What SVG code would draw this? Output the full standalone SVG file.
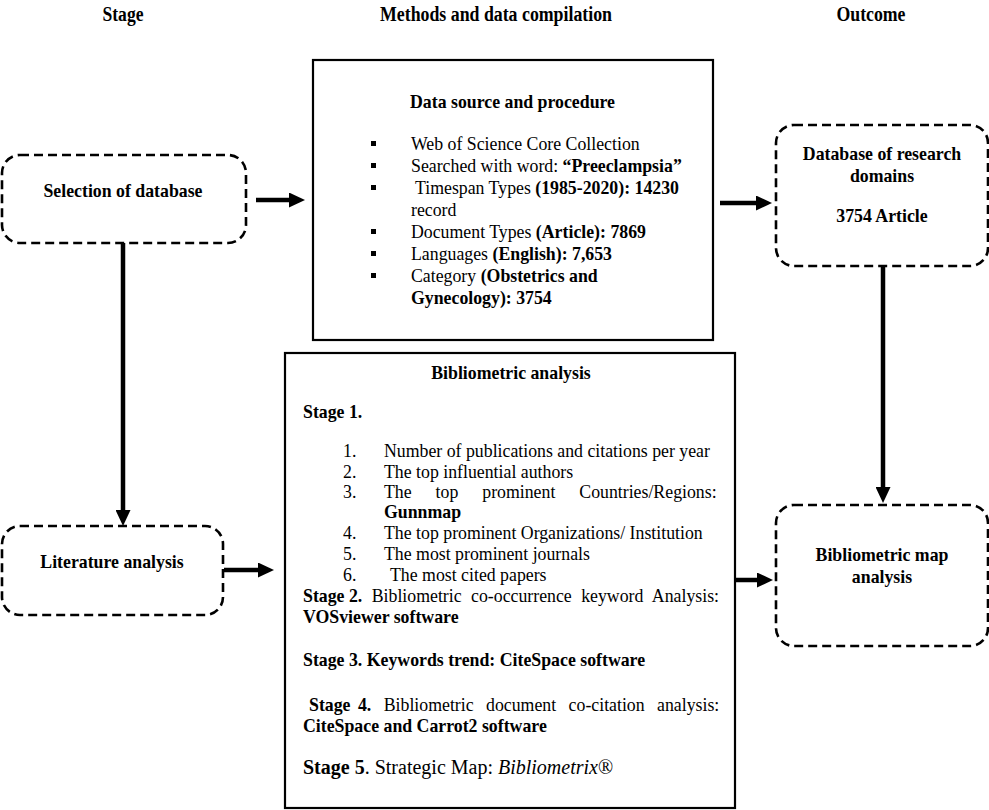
<svg xmlns="http://www.w3.org/2000/svg" width="989" height="810" viewBox="0 0 989 810">
<style>
text{font-family:"Liberation Serif","Times New Roman",serif;fill:#000}
.hd{font-size:20px;font-weight:bold}
.lb{font-size:17.8px;font-weight:bold}
.tx{font-size:17.8px}
.b{font-weight:bold}
.dash{fill:#fff;stroke:#000;stroke-width:2.6;stroke-dasharray:9 5}
.solid{fill:#fff;stroke:#000;stroke-width:2.2}
.con{stroke:#000;stroke-width:4.5;fill:none;marker-end:url(#ah)}
</style>
<defs>
<marker id="ah" markerUnits="userSpaceOnUse" markerWidth="16" markerHeight="15" refX="6" refY="7.5" orient="auto">
<path d="M0,0 L16,7.5 L0,15 z" fill="#000"/>
</marker>
</defs>
<rect width="989" height="810" fill="#fff"/>
<g id="headers">
<text class="hd" x="123" y="21" text-anchor="middle" textLength="41" lengthAdjust="spacingAndGlyphs">Stage</text>
<text class="hd" x="496" y="21" text-anchor="middle" textLength="232" lengthAdjust="spacingAndGlyphs">Methods and data compilation</text>
<text class="hd" x="871" y="21" text-anchor="middle" textLength="69" lengthAdjust="spacingAndGlyphs">Outcome</text>
</g>
<g id="connectors">
<line class="con" x1="256" y1="200" x2="295" y2="200"/>
<line class="con" x1="720" y1="203" x2="762" y2="203"/>
<line class="con" x1="123" y1="243" x2="123" y2="516"/>
<line class="con" x1="883" y1="266" x2="883" y2="493"/>
<line class="con" x1="224" y1="570" x2="264" y2="570"/>
<line class="con" x1="722" y1="580" x2="763" y2="580"/>
</g>
<g id="node-selection">
<rect class="dash" x="2" y="155" width="244" height="88" rx="18"/>
<text class="lb" x="123" y="197" text-anchor="middle">Selection of database</text>
</g>
<g id="node-literature">
<rect class="dash" x="2" y="526" width="221" height="89" rx="18"/>
<text class="lb" x="112" y="568" text-anchor="middle">Literature analysis</text>
</g>
<g id="node-datasource">
<rect class="solid" x="313" y="60" width="400" height="280"/>
<text class="lb" x="410" y="108">Data source and procedure</text>
<g fill="#000">
<rect x="371" y="141" width="5" height="5"/>
<rect x="371" y="163" width="5" height="5"/>
<rect x="371" y="185" width="5" height="5"/>
<rect x="371" y="229" width="5" height="5"/>
<rect x="371" y="251" width="5" height="5"/>
<rect x="371" y="273" width="5" height="5"/>
</g>
<text class="tx" x="411" y="150">Web of Science Core Collection</text>
<text class="tx" x="411" y="172">Searched with word: <tspan class="b">“Preeclampsia”</tspan></text>
<text class="tx" x="415" y="194">Timespan Types <tspan class="b">(1985-2020): 14230</tspan></text>
<text class="tx" x="411" y="216">record</text>
<text class="tx" x="411" y="238">Document Types <tspan class="b">(Article): 7869</tspan></text>
<text class="tx" x="411" y="260">Languages <tspan class="b">(English): 7,653</tspan></text>
<text class="tx" x="411" y="282">Category <tspan class="b">(Obstetrics and</tspan></text>
<text class="tx b" x="411" y="304">Gynecology): 3754</text>
</g>
<g id="node-database">
<rect class="dash" x="776" y="125" width="212" height="141" rx="18"/>
<text class="lb" x="882" y="160" text-anchor="middle">Database of research</text>
<text class="lb" x="882" y="182" text-anchor="middle">domains</text>
<text class="lb" x="882" y="222" text-anchor="middle">3754 Article</text>
</g>
<g id="node-bibliometric">
<rect class="solid" x="285" y="353" width="450" height="455"/>
<text class="lb" x="511" y="379" text-anchor="middle">Bibliometric analysis</text>
<text class="lb" x="303" y="418">Stage 1.</text>
<text class="tx" x="343" y="457">1.</text><text class="tx" x="384" y="457">Number of publications and citations per year</text>
<text class="tx" x="343" y="478">2.</text><text class="tx" x="384" y="478">The top influential authors</text>
<text class="tx" x="343" y="498">3.</text>
<text class="tx" x="384" y="498" word-spacing="19.5">The top prominent Countries/Regions:</text>
<text class="tx b" x="384" y="518">Gunnmap</text>
<text class="tx" x="343" y="539">4.</text><text class="tx" x="384" y="539">The top prominent Organizations/ Institution</text>
<text class="tx" x="343" y="560">5.</text><text class="tx" x="384" y="560">The most prominent journals</text>
<text class="tx" x="343" y="581">6.</text><text class="tx" x="390" y="581">The most cited papers</text>
<text class="tx" x="303" y="602"><tspan class="b">Stage 2.</tspan><tspan word-spacing="5"> Bibliometric co-occurrence keyword Analysis:</tspan></text>
<text class="tx b" x="303" y="623">VOSviewer software</text>
<text class="tx b" x="303" y="666">Stage 3. Keywords trend: CiteSpace software</text>
<text class="tx" x="309" y="711"><tspan class="b" word-spacing="3">Stage 4.</tspan><tspan word-spacing="8"> Bibliometric document co-citation analysis:</tspan></text>
<text class="tx b" x="303" y="732">CiteSpace and Carrot2 software</text>
<text x="303" y="774" style="font-size:20px"><tspan class="b">Stage 5</tspan>. Strategic Map: <tspan font-style="italic">Bibliometrix</tspan>®</text>
</g>
<g id="node-map">
<rect class="dash" x="776" y="505" width="212" height="141" rx="18"/>
<text class="lb" x="882" y="561" text-anchor="middle">Bibliometric map</text>
<text class="lb" x="882" y="583" text-anchor="middle">analysis</text>
</g>
</svg>
